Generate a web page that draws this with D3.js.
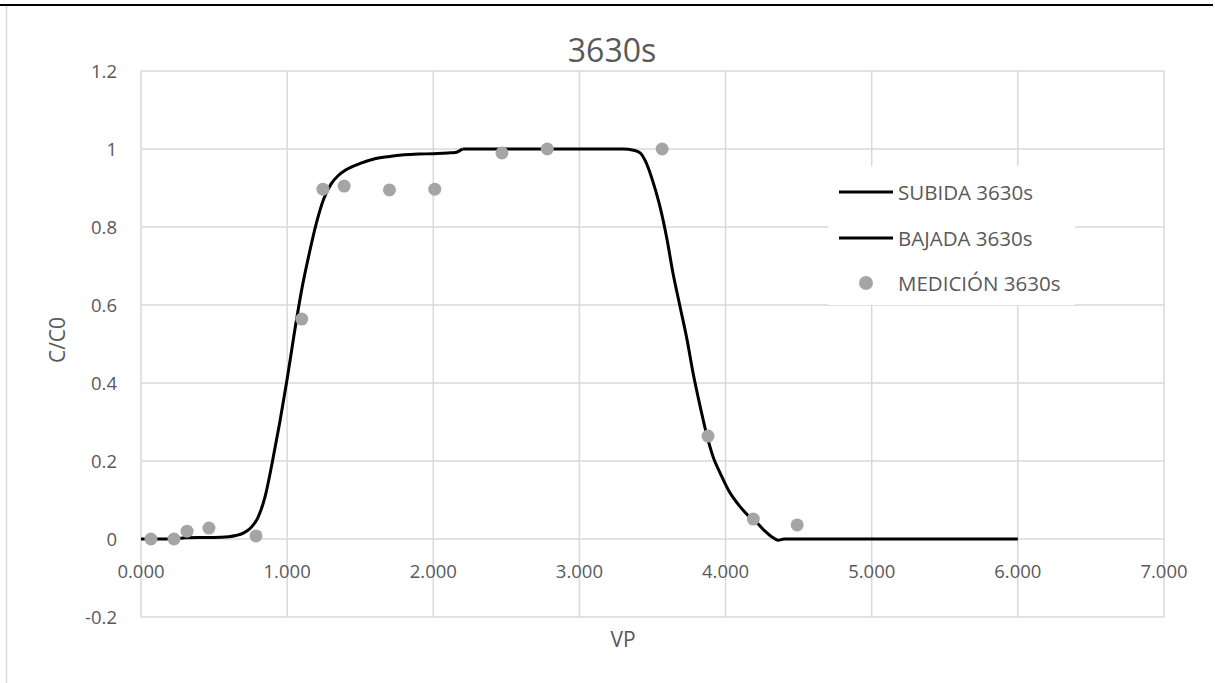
<!DOCTYPE html>
<html lang="en">
<head>
<meta charset="utf-8">
<title>3630s</title>
<script src="https://d3js.org/d3.v7.min.js"></script>
<style>
  body { margin: 0; background: #fff; }
  text { font-family: "Open Sans", sans-serif; fill: #595959; }
</style>
</head>
<body>
<div id="chart"></div>
<script>
// curve SUBIDA (rise)
var subidaX = [0, 0.1, 0.2, 0.25, 0.3, 0.4, 0.5, 0.6, 0.65, 0.7, 0.75, 0.8, 0.85, 0.9, 0.95, 1.0, 1.05, 1.1, 1.15, 1.2, 1.25, 1.3, 1.35, 1.4, 1.5, 1.6, 1.7, 1.8, 1.9, 2.0, 2.1, 2.15, 2.2];
var subidaY = [0, 0, 0, 0.001, 0.003, 0.004, 0.004, 0.006, 0.009, 0.015, 0.028, 0.055, 0.11, 0.2, 0.3, 0.41, 0.53, 0.64, 0.73, 0.81, 0.872, 0.91, 0.932, 0.946, 0.963, 0.975, 0.981, 0.985, 0.987, 0.988, 0.99, 0.991, 1.0];

// curve BAJADA (fall)
var bajadaX = [2.2, 2.5, 3.0, 3.3, 3.37, 3.415, 3.45, 3.484, 3.52, 3.552, 3.6, 3.64, 3.689, 3.737, 3.778, 3.826, 3.88, 3.92, 3.963, 4.02, 4.08, 4.15, 4.216, 4.27, 4.326, 4.36, 4.4, 5.0, 6.0];
var bajadaY = [1.0, 1.0, 1.0, 1.0, 0.997, 0.99, 0.97, 0.938, 0.895, 0.851, 0.767, 0.682, 0.595, 0.51, 0.425, 0.34, 0.254, 0.205, 0.169, 0.125, 0.092, 0.062, 0.041, 0.02, 0.003, -0.003, 0, 0, 0];

// measured points
var medX = [0.068, 0.226, 0.315, 0.465, 0.787, 1.10, 1.245, 1.39, 1.70, 2.01, 2.47, 2.78, 3.566, 3.88, 4.19, 4.49];
var medY = [0, 0, 0.02, 0.028, 0.008, 0.564, 0.897, 0.905, 0.895, 0.897, 0.99, 1.0, 1.0, 0.264, 0.051, 0.036];

var xTicks = [0, 1, 2, 3, 4, 5, 6, 7];
var yTicks = [-0.2, 0, 0.2, 0.4, 0.6, 0.8, 1, 1.2];
var seriesNames = ["SUBIDA 3630s", "BAJADA 3630s", "MEDICIÓN 3630s"];

var W = 1215, H = 683;
var svg = d3.select("#chart").append("svg")
  .attr("width", W).attr("height", H);

// outer frame bits
svg.append("line").attr("x1", 0).attr("x2", 1213).attr("y1", 5).attr("y2", 5)
  .attr("stroke", "#000").attr("stroke-width", 2);
svg.append("line").attr("x1", 6.5).attr("x2", 6.5).attr("y1", 6).attr("y2", H)
  .attr("stroke", "#d9d9d9").attr("stroke-width", 1.5);

var x = d3.scaleLinear().domain([0, 7]).range([141, 1164]);
var y = d3.scaleLinear().domain([-0.2, 1.2]).range([617, 71]);

// gridlines
svg.append("g").selectAll("line").data(xTicks).enter().append("line")
  .attr("x1", function(d) { return x(d); }).attr("x2", function(d) { return x(d); })
  .attr("y1", y(1.2)).attr("y2", y(-0.2))
  .attr("stroke", "#d9d9d9").attr("stroke-width", 1.5);
svg.append("g").selectAll("line").data(yTicks).enter().append("line")
  .attr("x1", x(0)).attr("x2", x(7))
  .attr("y1", function(d) { return y(d); }).attr("y2", function(d) { return y(d); })
  .attr("stroke", "#d9d9d9").attr("stroke-width", 1.5);

// tick labels
svg.append("g").selectAll("text").data(xTicks).enter().append("text")
  .attr("x", function(d) { return x(d); }).attr("y", 578)
  .attr("text-anchor", "middle").attr("font-size", 18.5)
  .text(function(d) { return d3.format(".3f")(d); });
svg.append("g").selectAll("text").data(yTicks).enter().append("text")
  .attr("x", 117).attr("y", function(d) { return y(d) + 7; })
  .attr("text-anchor", "end").attr("font-size", 18.5)
  .text(function(d) { return String(Math.round(d * 10) / 10); });

// titles
svg.append("text").attr("x", 612).attr("y", 62).attr("text-anchor", "middle")
  .attr("font-size", 32).text("3630s");
svg.append("text").attr("x", 623).attr("y", 647).attr("text-anchor", "middle")
  .attr("font-size", 21).text("VP");
svg.append("text").attr("transform", "translate(65,340) rotate(-90)")
  .attr("text-anchor", "middle").attr("font-size", 21).text("C/C0");

var line = d3.line()
  .x(function(d) { return x(d[0]); })
  .y(function(d) { return y(d[1]); })
  .curve(d3.curveMonotoneX);

svg.append("path").datum(d3.zip(subidaX, subidaY))
  .attr("d", line).attr("fill", "none").attr("stroke", "#000").attr("stroke-width", 3);
svg.append("path").datum(d3.zip(bajadaX, bajadaY))
  .attr("d", line).attr("fill", "none").attr("stroke", "#000").attr("stroke-width", 3);

svg.append("g").selectAll("circle").data(d3.zip(medX, medY)).enter().append("circle")
  .attr("cx", function(d) { return x(d[0]); })
  .attr("cy", function(d) { return y(d[1]); })
  .attr("r", 6.5).attr("fill", "#a5a5a5");

// legend
var lg = svg.append("g");
lg.append("rect").attr("x", 828).attr("y", 166).attr("width", 247).attr("height", 139).attr("fill", "#fff");
var rows = [192, 238, 283];
seriesNames.forEach(function(name, i) {
  if (i < 2) {
    lg.append("line").attr("x1", 839).attr("x2", 893).attr("y1", rows[i]).attr("y2", rows[i])
      .attr("stroke", "#000").attr("stroke-width", 3);
  } else {
    lg.append("circle").attr("cx", 866).attr("cy", rows[i]).attr("r", 7).attr("fill", "#a5a5a5");
  }
  lg.append("text").attr("x", 898).attr("y", rows[i] + 8).attr("font-size", 20.5).text(name);
});
</script>
</body>
</html>
